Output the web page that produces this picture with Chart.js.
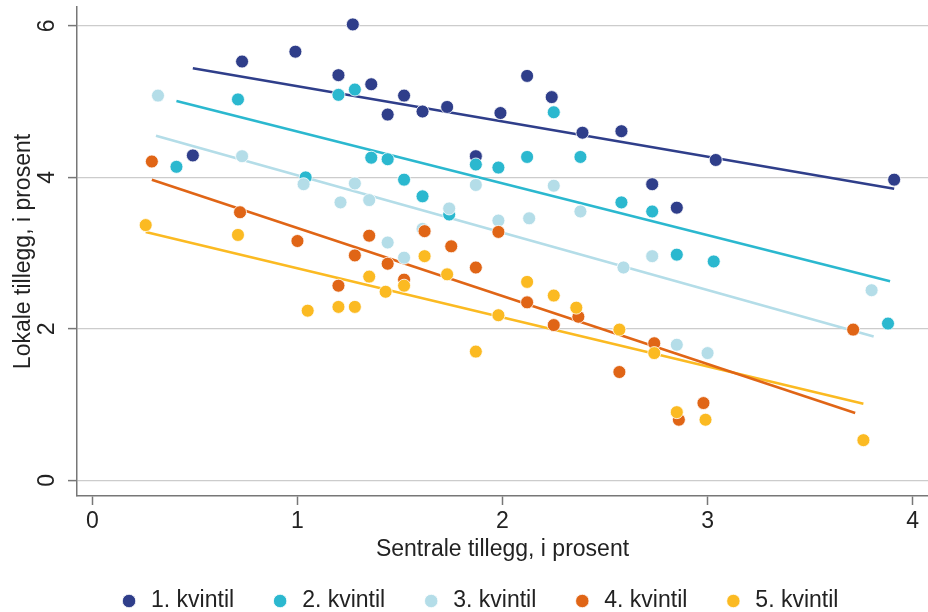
<!DOCTYPE html>
<html>
<head>
<meta charset="utf-8">
<script src="https://cdn.jsdelivr.net/npm/chart.js@4/dist/chart.umd.min.js"></script>
<style>
  body { margin: 0; background: #fff; overflow: hidden; }
  #wrap { width: 928px; height: 612px; }
  canvas { display: block; }
</style>
</head>
<body>
<div id="wrap"><canvas id="myChart" width="928" height="612"></canvas></div>
<script>
// legend names
var seriesNames = ["1. kvintil", "2. kvintil", "3. kvintil", "4. kvintil", "5. kvintil"]
var seriesColors = ["#2f3e8a", "#2bb8cf", "#b4dde8", "#e06516", "#fbba22"]

// scatter values (x = sentrale, y = lokale)
var kv1X = [0.49, 0.73, 0.99, 1.20, 1.27, 1.36, 1.44, 1.52, 1.61, 1.73, 1.87, 1.99, 2.12, 2.24, 2.39, 2.58, 2.73, 2.85, 3.04, 3.91]
var kv1Y = [4.29, 5.53, 5.66, 5.35, 6.02, 5.23, 4.83, 5.08, 4.87, 4.93, 4.28, 4.85, 5.34, 5.06, 4.59, 4.61, 3.91, 3.60, 4.23, 3.97]

var kv2X = [0.41, 0.71, 1.04, 1.20, 1.28, 1.36, 1.44, 1.52, 1.61, 1.74, 1.87, 1.98, 2.12, 2.25, 2.38, 2.58, 2.73, 2.85, 3.03, 3.88]
var kv2Y = [4.14, 5.03, 4.00, 5.09, 5.16, 4.26, 4.24, 3.97, 3.75, 3.51, 4.17, 4.13, 4.27, 4.86, 4.27, 3.67, 3.55, 2.98, 2.89, 2.07]

var kv3X = [0.32, 0.73, 1.03, 1.21, 1.28, 1.35, 1.44, 1.52, 1.61, 1.74, 1.87, 1.98, 2.13, 2.25, 2.38, 2.59, 2.73, 2.85, 3.00, 3.80]
var kv3Y = [5.08, 4.28, 3.91, 3.67, 3.92, 3.70, 3.14, 2.94, 3.32, 3.59, 3.90, 3.43, 3.46, 3.89, 3.55, 2.81, 2.96, 1.79, 1.68, 2.51]

var kv4X = [0.29, 0.72, 1.00, 1.20, 1.28, 1.35, 1.44, 1.52, 1.62, 1.75, 1.87, 1.98, 2.12, 2.25, 2.37, 2.57, 2.74, 2.86, 2.98, 3.71]
var kv4Y = [4.21, 3.54, 3.16, 2.57, 2.97, 3.23, 2.86, 2.65, 3.29, 3.09, 2.81, 3.28, 2.35, 2.05, 2.16, 1.43, 1.81, 0.80, 1.02, 1.99]

var kv5X = [0.26, 0.71, 1.05, 1.20, 1.28, 1.35, 1.43, 1.52, 1.62, 1.73, 1.87, 1.98, 2.12, 2.25, 2.36, 2.57, 2.74, 2.85, 2.99, 3.76]
var kv5Y = [3.37, 3.24, 2.24, 2.29, 2.29, 2.69, 2.49, 2.57, 2.96, 2.72, 1.70, 2.18, 2.62, 2.44, 2.28, 1.99, 1.68, 0.90, 0.80, 0.53]

// trend lines, start and end points as drawn
var trendX = [[0.49, 3.91], [0.41, 3.89], [0.31, 3.81], [0.29, 3.72], [0.26, 3.76]]
var trendY = [[5.44, 3.85], [5.01, 2.63], [4.55, 1.90], [3.97, 0.89], [3.28, 1.01]]

var xTicks = [0, 1, 2, 3, 4]
var yTicks = [0, 2, 4, 6]

var allX = [kv1X, kv2X, kv3X, kv4X, kv5X]
var allY = [kv1Y, kv2Y, kv3Y, kv4Y, kv5Y]

function pairs(xs, ys) {
  var out = []
  for (var i = 0; i < xs.length; i++) {
    out.push({x: xs[i], y: ys[i]})
  }
  return out
}

var datasets = []
for (var s = 0; s < 5; s++) {
  datasets.push({
    type: 'scatter',
    label: seriesNames[s],
    data: pairs(allX[s], allY[s]),
    backgroundColor: seriesColors[s],
    borderColor: '#ffffff',
    borderWidth: 0.8,
    pointRadius: 6.5,
    pointHoverRadius: 6.5,
    order: 5 - s
  })
}
for (var s = 0; s < 5; s++) {
  datasets.push({
    type: 'line',
    label: 'trend' + s,
    data: pairs(trendX[s], trendY[s]),
    borderColor: seriesColors[s],
    borderWidth: 2.6,
    pointRadius: 0,
    fill: false,
    order: 10
  })
}

var font = { family: "'Liberation Sans', Arial, sans-serif", size: 23 }

// no extra room for edge labels, the plot box is fixed
function noPad(scale) {
  scale.paddingLeft = 0
  scale.paddingRight = 0
  scale.paddingTop = 0
  scale.paddingBottom = 0
}

var ctx = document.getElementById('myChart').getContext('2d')
var chart = new Chart(ctx, {
  type: 'scatter',
  data: { datasets: datasets },
  options: {
    responsive: false,
    animation: false,
    layout: { autoPadding: false, padding: { top: 7, right: 0, bottom: 0, left: 29 } },
    plugins: {
      tooltip: { enabled: false },
      legend: {
        position: 'bottom',
        maxHeight: 58,
        labels: {
          font: font,
          color: '#222',
          usePointStyle: true,
          pointStyle: 'circle',
          boxWidth: 21,
          boxHeight: 9.5,
          padding: 35.5,
          filter: function(item) { return item.datasetIndex < 5 },
          sort: function(a, b) { return a.datasetIndex - b.datasetIndex }
        }
      }
    },
    scales: {
      x: {
        type: 'linear',
        min: -0.075,
        max: 4.075,
        afterFit: function(scale) { scale.height = 58; noPad(scale) },
        afterBuildTicks: function(scale) {
          scale.ticks = xTicks.map(function(v) { return {value: v} })
        },
        ticks: { font: font, color: '#222', padding: 3, includeBounds: false },
        grid: { drawOnChartArea: false, tickColor: '#777', tickLength: 9, tickWidth: 1.5 },
        border: { color: '#777', width: 1.5 },
        title: {
          display: true,
          text: 'Sentrale tillegg, i prosent',
          font: font,
          color: '#222',
          padding: { top: 0, bottom: -9 }
        }
      },
      y: {
        type: 'linear',
        min: -0.207,
        max: 6.25,
        afterFit: function(scale) { scale.width = 48; noPad(scale) },
        afterBuildTicks: function(scale) {
          scale.ticks = yTicks.map(function(v) { return {value: v} })
        },
        ticks: {
          font: font, color: '#222', padding: 14, includeBounds: false,
          minRotation: 90, maxRotation: 90, crossAlign: 'center'
        },
        grid: { color: '#cccccc', lineWidth: 1.2, tickColor: '#777', tickLength: 9, tickWidth: 1.5 },
        border: { color: '#777', width: 1.5 },
        title: {
          display: true,
          text: 'Lokale tillegg, i prosent',
          font: font,
          color: '#222',
          padding: { top: -19, bottom: 0 }
        }
      }
    }
  }
})
</script>
</body>
</html>
